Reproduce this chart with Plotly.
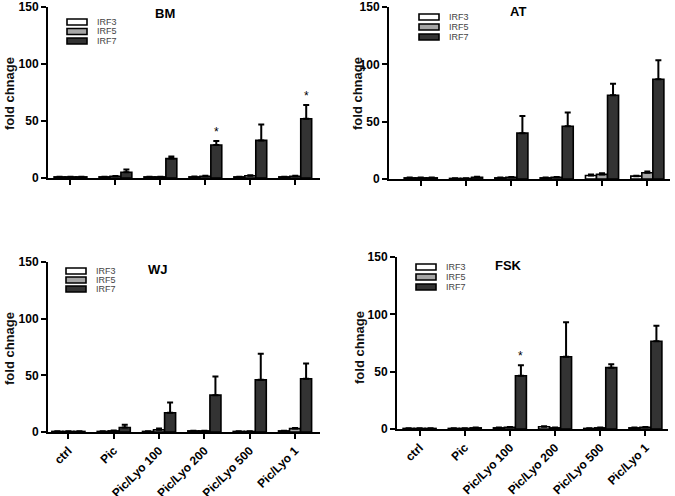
import plotly.graph_objects as go

W, H = 675, 496

categories = ["ctrl", "Pic", "Pic/Lyo 100", "Pic/Lyo 200", "Pic/Lyo 500", "Pic/Lyo 1"]
series_names = ["IRF3", "IRF5", "IRF7"]

# BM
bm_irf3 = [1, 1, 1, 1, 1, 1]
bm_irf3_err = [0.2, 0.2, 0.2, 0.3, 0.2, 0.2]
bm_irf5 = [1, 1.5, 1, 1.5, 2, 1.5]
bm_irf5_err = [0.2, 0.3, 0.2, 0.4, 0.5, 0.4]
bm_irf7 = [1, 5, 17, 29, 33, 52]
bm_irf7_err = [0.2, 2.5, 1.8, 3.5, 14, 12]
bm_stars = ["Pic/Lyo 200", "Pic/Lyo 1"]

# AT
at_irf3 = [1, 0.5, 1, 1, 3, 2.5]
at_irf3_err = [0.2, 0.2, 0.3, 0.3, 1, 0.4]
at_irf5 = [1, 0.5, 1.5, 1.5, 4, 5.5]
at_irf5_err = [0.2, 0.2, 0.3, 0.3, 1, 1]
at_irf7 = [1, 1.5, 40, 46, 73, 87]
at_irf7_err = [0.2, 0.5, 15, 12, 10, 16.5]
at_stars = []

# WJ
wj_irf3 = [0.5, 0.5, 0.5, 1, 0.5, 1]
wj_irf3_err = [0.1, 0.1, 0.1, 0.2, 0.1, 0.2]
wj_irf5 = [0.5, 1, 2, 1, 0.5, 3]
wj_irf5_err = [0.1, 0.3, 1, 0.2, 0.2, 0.5]
wj_irf7 = [0.5, 4, 17, 32.5, 46, 47]
wj_irf7_err = [0.1, 2.5, 9, 16.5, 23, 13.5]
wj_stars = []

# FSK
fsk_irf3 = [0.5, 0.5, 1, 2, 0.5, 1]
fsk_irf3_err = [0.1, 0.1, 0.2, 0.5, 0.1, 0.2]
fsk_irf5 = [0.5, 0.5, 1.5, 1, 1, 1.5]
fsk_irf5_err = [0.1, 0.1, 0.3, 0.2, 0.2, 0.3]
fsk_irf7 = [0.5, 1, 46.5, 63, 53.5, 76.5]
fsk_irf7_err = [0.1, 0.3, 9, 30, 3, 13.5]
fsk_stars = ["Pic/Lyo 100"]

y_ticks = [0, 50, 100, 150]
y_title = "fold chnage"

fills = ["#ffffff", "#a6a6a6", "#333333"]
FONT = "Liberation Sans, Arial, sans-serif"

def px_x(x):
    return x / W

def px_y(y):
    return 1 - y / H

# panel geometry in pixels: (left, right, top(150), zero)
panels = [
    dict(name="BM", data=[(bm_irf3, bm_irf3_err), (bm_irf5, bm_irf5_err), (bm_irf7, bm_irf7_err)],
         stars=bm_stars, box=(48, 320, 7, 178), xr=[-0.5, 5.55], labels=False,
         title=(165, 14), ytitle=(10, 94), leg=(67, 22, 9.5)),
    dict(name="AT", data=[(at_irf3, at_irf3_err), (at_irf5, at_irf5_err), (at_irf7, at_irf7_err)],
         stars=at_stars, box=(389, 670, 7, 179), xr=[-0.7, 5.5], labels=False,
         title=(518, 12), ytitle=(358, 94), leg=(419, 17, 10)),
    dict(name="WJ", data=[(wj_irf3, wj_irf3_err), (wj_irf5, wj_irf5_err), (wj_irf7, wj_irf7_err)],
         stars=wj_stars, box=(48, 320, 262, 432), xr=[-0.45, 5.55], labels=True,
         title=(158, 269), ytitle=(9, 349), leg=(66, 271, 9)),
    dict(name="FSK", data=[(fsk_irf3, fsk_irf3_err), (fsk_irf5, fsk_irf5_err), (fsk_irf7, fsk_irf7_err)],
         stars=fsk_stars, box=(397, 668, 257, 429), xr=[-0.5, 5.5], labels=True,
         title=(508, 265), ytitle=(359, 347), leg=(416, 267, 10)),
]

fig = go.Figure()
annotations = []
shapes = []

for i, p in enumerate(panels):
    k = "" if i == 0 else str(i + 1)
    xa, ya = "x" + k, "y" + k
    l, r, t, z = p["box"]
    for j, (vals, errs) in enumerate(p["data"]):
        fig.add_trace(go.Bar(
            x=categories, y=vals, name=series_names[j], xaxis=xa, yaxis=ya,
            offsetgroup=str(j), showlegend=False,
            marker=dict(color=fills[j], line=dict(color="#000000", width=1.6)),
            error_y=dict(type="data", array=errs, arrayminus=[0] * len(errs), symmetric=False,
                         color="#000000", thickness=2, width=3),
        ))
    # stars above IRF7 error bars
    vals7, errs7 = p["data"][2]
    for c in p["stars"]:
        idx = categories.index(c)
        annotations.append(dict(x=c, y=vals7[idx] + errs7[idx], xref=xa, yref=ya,
                                xshift=11, yshift=0, xanchor="center", yanchor="bottom",
                                showarrow=False,
                                text="*", font=dict(family=FONT, size=12, color="#000")))
    axis_common = dict(showline=True, linecolor="#000000", linewidth=2, ticks="outside",
                       tickcolor="#000000", tickwidth=2, ticklen=5, showgrid=False,
                       zeroline=False, mirror=False, automargin=False)
    fig.layout["xaxis" + k] = dict(
        domain=[px_x(l), px_x(r)], anchor=ya, range=p["xr"], type="category",
        showticklabels=p["labels"], tickangle=-45,
        tickfont=dict(family=FONT, size=12, color="#000", weight="bold"),
        **axis_common)
    fig.layout["yaxis" + k] = dict(
        domain=[px_y(z), px_y(t)], anchor=xa, range=[0, 150], tickvals=y_ticks,
        tickfont=dict(family=FONT, size=12, color="#000", weight="bold"),
        **axis_common)
    # panel title
    tx, ty = p["title"]
    annotations.append(dict(x=px_x(tx), y=px_y(ty), xref="paper", yref="paper", showarrow=False,
                            xanchor="center", yanchor="middle",
                            text="<b>%s</b>" % p["name"], font=dict(family=FONT, size=13, color="#000")))
    # y title
    yx, yy = p["ytitle"]
    annotations.append(dict(x=px_x(yx), y=px_y(yy), xref="paper", yref="paper", showarrow=False,
                            xanchor="center", yanchor="middle",
                            textangle=-90, text="<b>%s</b>" % y_title,
                            font=dict(family=FONT, size=13, color="#111")))
    # legend
    lx, ly, step = p["leg"]
    for j, nm in enumerate(series_names):
        cy = ly + j * step
        shapes.append(dict(type="rect", xref="paper", yref="paper",
                           x0=px_x(lx), x1=px_x(lx + 20), y0=px_y(cy - 3), y1=px_y(cy + 3),
                           line=dict(color="#000", width=1.6), fillcolor=fills[j]))
        annotations.append(dict(x=px_x(lx + 28), y=px_y(cy), xref="paper", yref="paper",
                                xanchor="left", yanchor="middle", showarrow=False, text=nm,
                                font=dict(family=FONT, size=9, color="#444")))

fig.update_layout(
    width=W, height=H, margin=dict(l=0, r=0, t=0, b=0, autoexpand=False),
    paper_bgcolor="#ffffff", plot_bgcolor="#ffffff",
    barmode="group", bargap=0.27, bargroupgap=0.0,
    showlegend=False, annotations=annotations, shapes=shapes,
    font=dict(family=FONT),
)

fig.write_html(
    "out.html",
    config={"displayModeBar": False},
    post_script="document.body.style.margin='0';document.body.style.padding='0';"
                "document.body.style.overflow='hidden';",
)
